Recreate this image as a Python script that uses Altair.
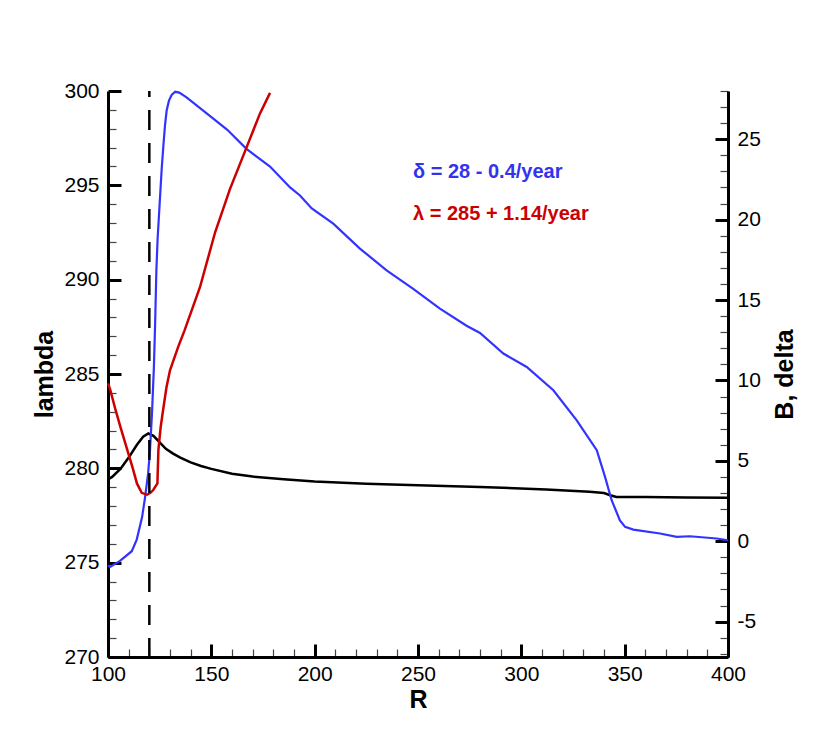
import altair as alt
import pandas as pd

FONT = "Liberation Sans"

# black curve: B (right axis)
black_R = [100, 102, 106, 110, 114, 117, 119.5, 122, 125, 128, 131.5, 135, 140, 145, 150,
           160, 170, 185, 200, 225, 250, 280, 312, 333, 340, 343, 346, 360, 380, 400]
black_B = [3.85, 4.0, 4.5, 5.2, 6.0, 6.5, 6.7, 6.55, 6.15, 5.75, 5.45, 5.2, 4.9, 4.68, 4.5,
           4.2, 4.02, 3.85, 3.72, 3.58, 3.48, 3.38, 3.22, 3.08, 3.0, 2.86, 2.75, 2.75, 2.72, 2.7]

# blue curve: delta (right axis)
blue_R = [100, 101, 105.8, 111.5, 113.9, 116.5, 117.9, 119.4, 120.3, 121.3, 122.2, 122.8, 123.4,
          124.0, 125.0, 126.0, 126.8, 127.6, 128.4, 129.5, 130.8, 132.5, 134.5, 138, 147.9,
          157.6, 167, 178.4, 188.1, 192.9, 198.6, 209, 221.9, 234.8, 247.7, 260.6, 273.5, 280,
          291.3, 302.6, 315.5, 326.8, 336.5, 340.5, 343.7, 347.7, 350.2, 354.2, 367.1, 375.2,
          381.6, 394.5, 400]
blue_delta = [-1.5, -1.6, -1.22, -0.62, 0.1, 1.5, 2.7, 4.2, 5.6, 8.0, 10.8, 13.5, 16.8,
              18.8, 21.0, 23.2, 24.6, 25.9, 26.8, 27.4, 27.75, 27.95, 27.9, 27.6, 26.6,
              25.6, 24.4, 23.3, 22.0, 21.5, 20.7, 19.75, 18.2, 16.85, 15.7, 14.47, 13.4, 12.95,
              11.67, 10.84, 9.39, 7.52, 5.66, 4.0, 2.55, 1.3, 0.89, 0.72, 0.48, 0.27,
              0.31, 0.17, 0.06]

# red curve: lambda (left axis)
red_R = [100, 101, 103.4, 106, 109, 112, 114, 116.3, 118.9, 120.5, 121.9, 123.9, 124.4, 125.5,
         126.8, 128.3, 130, 134, 137, 144.5, 151.8, 159, 167, 173.5, 178.4]
red_lambda = [284.5, 284.2, 283.2, 282.2, 281.1, 280.0, 279.2, 278.7, 278.6, 278.7, 278.85,
              279.2, 281.0, 282.2, 283.2, 284.3, 285.2, 286.45, 287.3, 289.6, 292.5, 294.8,
              297.0, 298.8, 299.9]

vline_R = [120]

note_text = ["\u03b4 = 28 - 0.4/year", "\u03bb = 285 + 1.14/year"]
note_R = [247.6, 247.6]
note_lambda = [295.7, 293.5]
note_color = ["#3333ee", "#cc0000"]

x_ticks = list(range(100, 401, 10))
lam_ticks = list(range(270, 301))
b_ticks = list(range(-7, 29))

black_df = pd.DataFrame({"R": black_R, "v": black_B})
blue_df = pd.DataFrame({"R": blue_R, "v": blue_delta})
red_df = pd.DataFrame({"R": red_R, "lam": red_lambda})
vline_df = pd.DataFrame({"R": vline_R})
note_df = pd.DataFrame({"R": note_R, "lam": note_lambda, "t": note_text, "c": note_color})


def make_axis(values, major, orient, title, **kw):
    cond = f"datum.value % {major} === 0"
    return alt.Axis(
        values=values, orient=orient, title=title,
        tickSize=alt.ExprRef(expr=f"{cond} ? -13 : -8"),
        tickWidth=alt.ExprRef(expr=f"{cond} ? 3 : 1.2"),
        tickColor=alt.ExprRef(expr=f"{cond} ? '#000000' : '#444444'"),
        labelExpr=f"{cond} ? ('' + datum.value) : ''",
        labelOverlap=False, labelFlush=False, grid=False,
        domainColor="black", domainWidth=3,
        labelFont=FONT, labelFontSize=21, labelColor="black",
        titleFont=FONT, titleFontSize=25, titleFontWeight="bold", titleColor="black",
        **kw,
    )


x_axis = make_axis(x_ticks, 50, "bottom", "R", labelPadding=19.5, titlePadding=-2)
lam_axis = make_axis(lam_ticks, 5, "left", "lambda", labelPadding=22, titlePadding=6)
b_axis = make_axis(b_ticks, 5, "right", "B, delta", labelPadding=22, titlePadding=12,
                   titleAngle=270, titleBaseline="top")

x_scale = alt.Scale(domain=[100, 400], nice=False, zero=False)
lam_scale = alt.Scale(domain=[270, 300], nice=False, zero=False)
b_scale = alt.Scale(domain=[-7.2, 28], nice=False, zero=False)


def xenc():
    return alt.X("R:Q", scale=x_scale, axis=x_axis)


black = alt.Chart(black_df).mark_line(color="black", strokeWidth=2.5).encode(
    x=xenc(), y=alt.Y("v:Q", scale=b_scale, axis=b_axis))
blue = alt.Chart(blue_df).mark_line(color="#3333ff", strokeWidth=2.2).encode(
    x=xenc(), y=alt.Y("v:Q", scale=b_scale, axis=b_axis))
right = alt.layer(black, blue)

red = alt.Chart(red_df).mark_line(color="#cc0000", strokeWidth=2.5).encode(
    x=xenc(), y=alt.Y("lam:Q", scale=lam_scale, axis=lam_axis))
notes = alt.Chart(note_df).mark_text(
    align="left", baseline="middle", font=FONT, fontSize=20, fontWeight="bold"
).encode(
    x=xenc(), y=alt.Y("lam:Q", scale=lam_scale, axis=lam_axis),
    text="t:N", color=alt.Color("c:N", scale=None))
left = alt.layer(red, notes)

rule = alt.Chart(vline_df).mark_rule(
    color="black", strokeWidth=2.5, strokeDash=[20, 13], strokeDashOffset=14
).encode(x=xenc())

chart = alt.layer(right, left, rule).resolve_scale(y="independent").properties(
    width=620, height=566,
    padding={"left": 100, "top": 83, "right": 94, "bottom": 74},
    autosize=alt.AutoSizeParams(type="none"),
    background="white",
).configure_view(strokeWidth=0)

chart.save("out.html", embed_options={"renderer": "svg", "actions": False})
